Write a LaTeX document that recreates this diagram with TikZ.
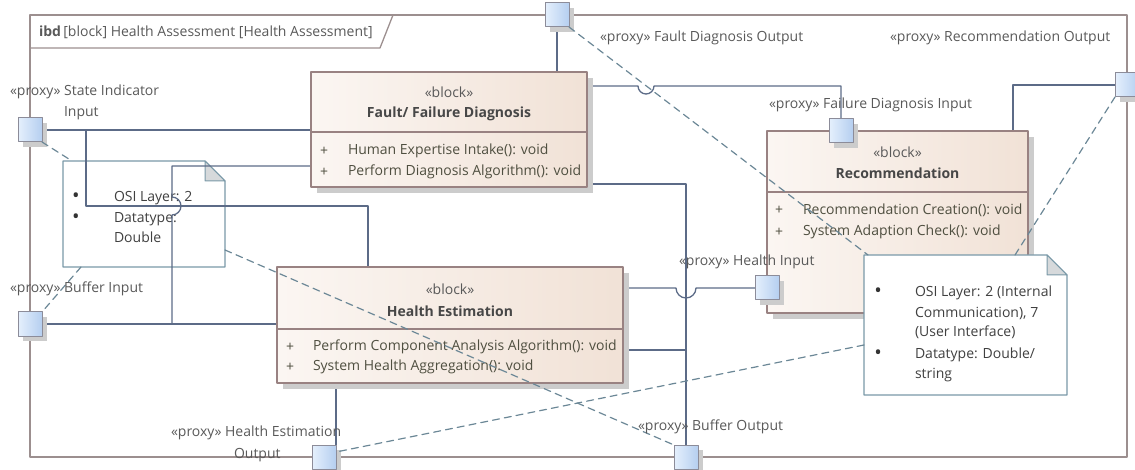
\documentclass[tikz,border=0pt]{standalone}
\usepackage{fontspec}
\setmainfont{Open Sans}
\usepackage{tikz}
\definecolor{framecol}{rgb}{0.61,0.56,0.56}
\definecolor{blockcol}{rgb}{0.6,0.51,0.51}
\definecolor{blockl}{rgb}{0.985,0.965,0.95}
\definecolor{blockr}{rgb}{0.945,0.885,0.84}
\definecolor{shadowcol}{rgb}{0.8,0.8,0.8}
\definecolor{portcol}{rgb}{0.55,0.55,0.6}
\definecolor{portl}{rgb}{0.9,0.94,0.99}
\definecolor{portr}{rgb}{0.71,0.81,0.94}
\definecolor{conncol}{rgb}{0.36,0.42,0.53}
\definecolor{linkcol}{rgb}{0.42,0.53,0.59}
\definecolor{notecol}{rgb}{0.48,0.6,0.66}
\definecolor{foldcol}{rgb}{0.84,0.85,0.86}
\definecolor{txtgray}{rgb}{0.35,0.35,0.35}
\definecolor{attrcol}{rgb}{0.31,0.31,0.25}
\begin{document}
\begin{tikzpicture}[line cap=round,line join=round,x=1pt,y=-1pt,
  every node/.style={font=\fontsize{14}{16}\selectfont,text=txtgray,inner sep=0pt,outer sep=0pt},
  frameline/.style={draw=framecol,line width=2.2pt},
  blockbox/.style={draw=blockcol,line width=1.2pt,left color=blockl,right color=blockr},
  blockline/.style={draw=blockcol,line width=1.2pt},
  blockname/.style={font=\fontsize{14}{16}\selectfont\bfseries,text=black!72},
  attr/.style={anchor=west,text=attrcol},
  portbox/.style={draw=portcol,line width=1pt,minimum size=24pt,left color=portl,right color=portr},
  shadowbox/.style={fill=shadowcol},
  notebox/.style={draw=notecol,line width=1.2pt,fill=white},
  notefold/.style={draw=notecol,line width=1pt,fill=foldcol},
  notetext/.style={anchor=base west,text=black!75},
  notebullet/.style={anchor=base,text=black!80,font=\fontsize{20}{20}\selectfont},
  conn/.style={draw=conncol,line width=1.3pt},
  notelink/.style={draw=linkcol,line width=1.2pt,dash pattern=on 7pt off 5pt},
  portlabel/.style={anchor=west}]
\useasboundingbox (0,0) rectangle (1135,470);
\draw [frameline] (30,15) rectangle (1127,457);
\draw [draw=framecol,line width=1.3pt] (30,48) -- (380,48) -- (393,15);
\node [anchor=west] (hdr) at (39,32) {\textbf{ibd}\,[block] Health Assessment [Health Assessment]};
\node [minimum width=162pt,minimum height=106pt] (lnote) at (144,214) {};
\draw [notebox] (lnote.south west) -- (lnote.north west) -- ([xshift=-20pt]lnote.north east) -- ([yshift=-20pt]lnote.north east) -- (lnote.south east) -- cycle;
\draw [notefold] ([xshift=-20pt]lnote.north east) -- ([xshift=-20pt,yshift=-20pt]lnote.north east) -- ([yshift=-20pt]lnote.north east) -- cycle;
\node [notebullet] (lnoteb1) at (76,203) {•};
\node [notebullet] (lnoteb2) at (76,224) {•};
\node [notetext] (lnotet1) at (114,202) {OSI Layer: 2};
\node [notetext] (lnotet2) at (114,223) {Datatype:};
\node [notetext] (lnotet3) at (114,243) {Double};
\node [minimum width=276pt,minimum height=115pt] (fault) at (449,129.5) {};
\node [minimum width=346pt,minimum height=116pt] (health) at (450,325) {};
\node [minimum width=261pt,minimum height=182pt] (rec) at (897.5,222) {};
\node [minimum size=24pt] (sii) at (30,130) {};
\node [minimum size=24pt] (bin) at (30,324) {};
\node [minimum size=24pt] (fdo) at (557,15) {};
\node [minimum size=24pt] (rout) at (1127,85) {};
\node [minimum size=24pt] (hout) at (324,457) {};
\node [minimum size=24pt] (bout) at (686,457) {};
\node [minimum size=24pt] (fdi) at (841,131) {};
\node [minimum size=24pt] (hin) at (767,288) {};
\coordinate (siibr) at (86,130);
\coordinate (binbr) at (172,324);
\draw [conn] (sii.east) -- (sii.east -| fault.west);
\draw [conn] (siibr) -- (86,206) -- (368,206) -- (368,0 |- health.north);
\draw [conn] (bin.east) -- (bin.east -| health.west);
\draw [conn] (binbr) -- (172,215) arc[start angle=90,end angle=-90,radius=9] -- (172,166) -- (fault.west |- 0,166);
\draw [conn] ([yshift=-14pt]fault.north east) -- (638,86) arc[start angle=180,end angle=0,radius=8] -- (fdi.north |- 0,86) -- (fdi.north);
\draw [conn] (fdo.south) -- (fdo.south |- fault.north);
\draw [conn] ([xshift=-15pt]rec.north east) |- (rout.west);
\draw [conn] (health.east |- 0,288) -- (676,288) arc[start angle=180,end angle=0,radius=10] -- (hin.west);
\draw [conn] ([yshift=3pt]fault.south east) -| (bout.north);
\draw [conn] (health.east |- 0,350) -- (bout.north |- 0,350);
\draw [conn] (health.south -| hout.north east) -- (hout.north east);
\fill [shadowbox] ([shift={(6,6)}]fault.north west) rectangle ([shift={(6,6)}]fault.south east);
\fill [shadowbox] ([shift={(6,6)}]health.north west) rectangle ([shift={(6,6)}]health.south east);
\fill [shadowbox] ([shift={(6,6)}]rec.north west) rectangle ([shift={(6,6)}]rec.south east);
\draw [blockbox] (fault.north west) rectangle (fault.south east);
\draw [blockbox] (health.north west) rectangle (health.south east);
\draw [blockbox] (rec.north west) rectangle (rec.south east);
\draw [blockline] (fault.west |- 0,132) -- (fault.east |- 0,132);
\draw [blockline] (health.west |- 0,329) -- (health.east |- 0,329);
\draw [blockline] (rec.west |- 0,192) -- (rec.east |- 0,192);
\foreach \p in {sii,bin,fdo,rout,hout,bout,fdi,hin}{
  \fill [shadowbox] ([shift={(5,5)}]\p.north west) rectangle ([shift={(5,5)}]\p.south east);
  \draw [portbox] (\p.north west) rectangle (\p.south east);
}
\node (faultst) at (449,92) {«block»};
\node [blockname] (faultnm) at (449,114) {Fault/ Failure Diagnosis};
\node [attr] (faultp1) at (320,151) {+};
\node [attr] (faulta1) at (348,151) {Human Expertise Intake(): void};
\node [attr] (faultp2) at (320,172) {+};
\node [attr] (faulta2) at (348,172) {Perform Diagnosis Algorithm(): void};
\node (healthst) at (450,289) {«block»};
\node [blockname] (healthnm) at (450,311) {Health Estimation};
\node [attr] (healthp1) at (286,347) {+};
\node [attr] (healtha1) at (313,347) {Perform Component Analysis Algorithm(): void};
\node [attr] (healthp2) at (286,367) {+};
\node [attr] (healtha2) at (313,367) {System Health Aggregation(): void};
\node (recst) at (897.5,152) {«block»};
\node [blockname] (recnm) at (897.5,173) {Recommendation};
\node [attr] (recp1) at (775,210) {+};
\node [attr] (reca1) at (803,210) {Recommendation Creation(): void};
\node [attr] (recp2) at (775,232) {+};
\node [attr] (reca2) at (803,232) {System Adaption Check(): void};
\node [minimum width=203pt,minimum height=140pt] (rnote) at (965.5,325) {};
\draw [notebox] (rnote.south west) -- (rnote.north west) -- ([xshift=-20pt]rnote.north east) -- ([yshift=-20pt]rnote.north east) -- (rnote.south east) -- cycle;
\draw [notefold] ([xshift=-20pt]rnote.north east) -- ([xshift=-20pt,yshift=-20pt]rnote.north east) -- ([yshift=-20pt]rnote.north east) -- cycle;
\node [notebullet] (rnoteb1) at (878,298) {•};
\node [notebullet] (rnoteb2) at (878,359) {•};
\node [notetext] (rnotet1) at (915,297) {OSI Layer: 2 (Internal};
\node [notetext] (rnotet2) at (915,317) {Communication), 7};
\node [notetext] (rnotet3) at (915,337) {(User Interface)};
\node [notetext] (rnotet4) at (915,358) {Datatype: Double/};
\node [notetext] (rnotet5) at (915,378) {string};
\draw [notelink] (sii.south east) -- ([xshift=9pt]lnote.north west);
\draw [notelink] ([xshift=18pt]lnote.south west) -- (bin.north east);
\draw [notelink] ([yshift=17pt]lnote.south east) -- (bout.north west);
\draw [notelink] ([yshift=-20pt]rnote.west) -- ([yshift=5pt]hout.east);
\draw [notelink] (rout.south west) -- ([xshift=-52pt]rnote.north east);
\draw [notelink] (fdo.south east) -- ([xshift=4pt]rnote.north west);
\node [portlabel] (siilbl) at (10,92) {«proxy» State Indicator};
\node [portlabel] (siilbl2) at (64,113) {Input};
\node [portlabel] (binlbl) at (10,289) {«proxy» Buffer Input};
\node [portlabel] (fdolbl) at (600,38) {«proxy» Fault Diagnosis Output};
\node [portlabel] (routlbl) at (890,38) {«proxy» Recommendation Output};
\node [portlabel] (fdilbl) at (769,105) {«proxy» Failure Diagnosis Input};
\node [portlabel] (hinlbl) at (679,262) {«proxy» Health Input};
\node [portlabel] (houtlbl) at (171,433) {«proxy» Health Estimation};
\node [portlabel] (houtlbl2) at (234,455) {Output};
\node [portlabel] (boutlbl) at (638,427) {«proxy» Buffer Output};
\end{tikzpicture}
\end{document}
